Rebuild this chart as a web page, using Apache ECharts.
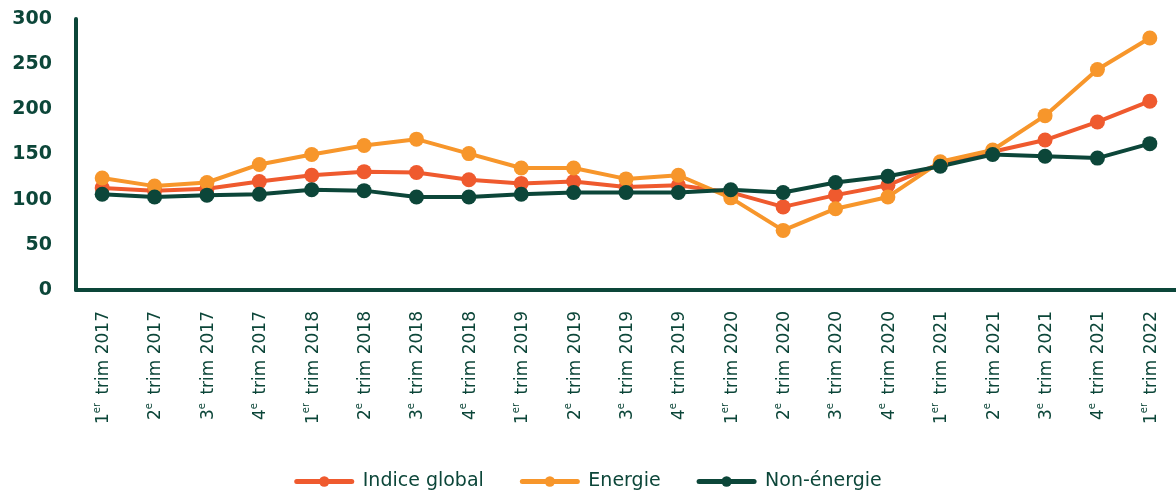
<!DOCTYPE html>
<html lang="fr">
<head>
    <meta charset="utf-8">
    <script src="https://cdn.jsdelivr.net/npm/echarts@6/dist/echarts.min.js"></script>
    <title>Indices</title>
    <style>
        html, body { margin: 0; padding: 0; background: #fff; }
        #chart { width: 1176px; height: 493px; }
    </style>
</head>
<body>
<div id="chart"></div>
<script type="text/javascript">
    // trimestres : ordinal + année
    const quarters = ['1er', '2e', '3e', '4e', '1er', '2e', '3e', '4e', '1er', '2e', '3e', '4e',
        '1er', '2e', '3e', '4e', '1er', '2e', '3e', '4e', '1er'];
    const years = ['2017', '2017', '2017', '2017', '2018', '2018', '2018', '2018', '2019', '2019', '2019', '2019',
        '2020', '2020', '2020', '2020', '2021', '2021', '2021', '2021', '2022'];

    const indiceGlobal = [113, 110, 112, 120, 127, 131, 130, 122, 118, 120, 114, 116,
        108, 92, 105, 116, 140, 153, 166, 186, 209];
    const energie = [124, 115, 119, 139, 150, 160, 167, 151, 135, 135, 123, 127,
        102, 66, 90, 103, 142, 155, 193, 244, 279];
    const nonEnergie = [106, 103, 105, 106, 111, 110, 103, 103, 106, 108, 108, 108,
        111, 108, 119, 126, 137, 150, 148, 146, 162];

    const yTicks = [0, 50, 100, 150, 200, 250, 300];

    const dark = '#0c4639';
    const red = '#ef5a2e';
    const orange = '#f7962b';
    const font = 'DejaVu Sans';

    const categories = quarters.map((q, i) => q + ' trim ' + years[i]);

    const chart = echarts.init(document.getElementById('chart'), null, {renderer: 'canvas'});

    function makeSeries(name, data, color) {
        return {
            name: name,
            type: 'line',
            data: data,
            symbol: 'circle',
            symbolSize: 15,
            lineStyle: {width: 4, color: color, cap: 'round'},
            itemStyle: {color: color},
            emphasis: {disabled: true}
        };
    }

    chart.setOption({
        animation: false,
        textStyle: {fontFamily: font, color: dark},
        grid: {left: 76, right: -2, top: 19, bottom: 203, containLabel: false},
        legend: {
            top: 472,
            padding: 0,
            left: 'center',
            itemWidth: 55,
            itemHeight: 13,
            itemGap: 36,
            lineStyle: {width: 5, cap: 'round'},
            textStyle: {fontSize: 19, color: dark, fontFamily: font, padding: [0, 0, 0, 6]},
            data: ['Indice global', 'Energie', 'Non-énergie']
        },
        xAxis: {
            type: 'category',
            data: categories,
            boundaryGap: true,
            axisLine: {lineStyle: {color: dark, width: 4}},
            axisTick: {show: false},
            axisLabel: {
                rotate: 90,
                margin: 21,
                interval: 0,
                color: dark,
                fontSize: 17,
                formatter: function (v) {
                    const parts = v.split(' trim ');
                    const num = parts[0].charAt(0);
                    const sup = parts[0].slice(1);
                    return '{n|' + num + '}{s|' + sup + '}{n| trim ' + parts[1] + '}';
                },
                rich: {
                    n: {fontSize: 17, color: dark, fontFamily: font, verticalAlign: 'bottom', lineHeight: 20},
                    s: {fontSize: 10, color: dark, fontFamily: font, verticalAlign: 'top', lineHeight: 20, padding: [0, 3, 8, 0]}
                }
            }
        },
        yAxis: {
            type: 'value',
            min: yTicks[0],
            max: yTicks[yTicks.length - 1],
            interval: 50,
            axisLine: {show: true, lineStyle: {color: dark, width: 4, cap: 'round'}},
            axisTick: {show: false},
            splitLine: {show: false},
            axisLabel: {
                margin: 24,
                color: dark,
                fontSize: 19,
                fontWeight: 'bold',
                fontFamily: font
            }
        },
        series: [
            makeSeries('Indice global', indiceGlobal, red),
            makeSeries('Energie', energie, orange),
            makeSeries('Non-énergie', nonEnergie, dark)
        ]
    });
</script>
</body>
</html>
